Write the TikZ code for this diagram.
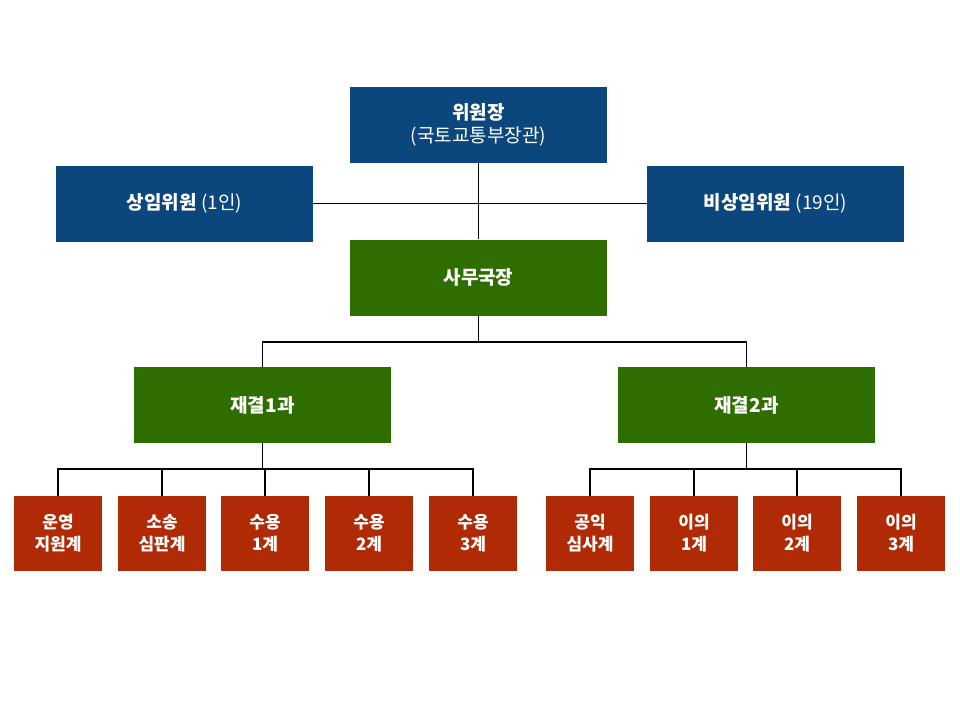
\documentclass[tikz,border=0pt]{standalone}
\usepackage{fontspec}
\newfontfamily\kr{Noto Sans CJK KR}
\usepackage{tikz}
\definecolor{orgblue}{HTML}{0B467C}
\definecolor{orggreen}{HTML}{2E6E00}
\definecolor{orgred}{HTML}{B02A06}
\tikzset{
  bigbox/.style={rectangle,minimum width=257pt,minimum height=76pt,text=white,
    font=\kr\fontsize{19}{23}\selectfont,align=center,inner sep=0pt},
  smallbox/.style={rectangle,fill=orgred,minimum width=88pt,minimum height=75pt,
    text=white,font=\kr\bfseries\fontsize{17}{22}\selectfont,align=center,inner sep=0pt},
  link/.style={draw=black,line width=1.3pt}
}
\begin{document}
\begin{tikzpicture}[x=1pt,y=-1pt]
\useasboundingbox (0,0) rectangle (960,720);
% Committee
\node[bigbox,fill=orgblue] (chair) at (478.5,125) {\textbf{위원장}\\(국토교통부장관)};
\node[bigbox,fill=orgblue] (standing) at (184.5,203.5) {\textbf{상임위원} (1인)};
\node[bigbox,fill=orgblue] (nonstanding) at (775.5,203.5) {\textbf{비상임위원} (19인)};
\node[bigbox,fill=orggreen] (secretary) at (478.5,277.5) {\textbf{사무국장}};

% Divisions
\node[bigbox,fill=orggreen] (divone) at (262.5,405) {\textbf{재결1과}};
\node[bigbox,fill=orggreen] (divtwo) at (746.5,405) {\textbf{재결2과}};

% Teams
\foreach \name/\x/\txt in {ta/58/운영\\지원계, tb/162/소송\\심판계, tc/265/수용\\1계,
    td/369/수용\\2계, te/473/수용\\3계, tf/590/공익\\심사계, tg/694/이의\\1계,
    th/797/이의\\2계, ti/901/이의\\3계} {
  \node[smallbox] (\name) at (\x,533.5) {\txt};
}

% Lines
\draw[link] (standing.east) -- (nonstanding.west);
\draw[link] (chair.south) -- (secretary.north);
\coordinate (barone) at (0,342);
\draw[link] (divone.north) |- (barone -| divtwo.north) -- (divtwo.north);
\draw[link] (secretary.south) -- (secretary.south |- barone);
\coordinate (bartwo) at (0,469);
\draw[link] (divone.south) -- (divone.south |- bartwo);
\draw[link] (ta.north) |- (bartwo -| te.north) -- (te.north);
\foreach \t in {tb,tc,td} \draw[link] (\t.north) -- (\t.north |- bartwo);
\draw[link] (divtwo.south) -- (divtwo.south |- bartwo);
\draw[link] (tf.north) |- (bartwo -| ti.north) -- (ti.north);
\foreach \t in {tg,th} \draw[link] (\t.north) -- (\t.north |- bartwo);
\end{tikzpicture}
\end{document}
